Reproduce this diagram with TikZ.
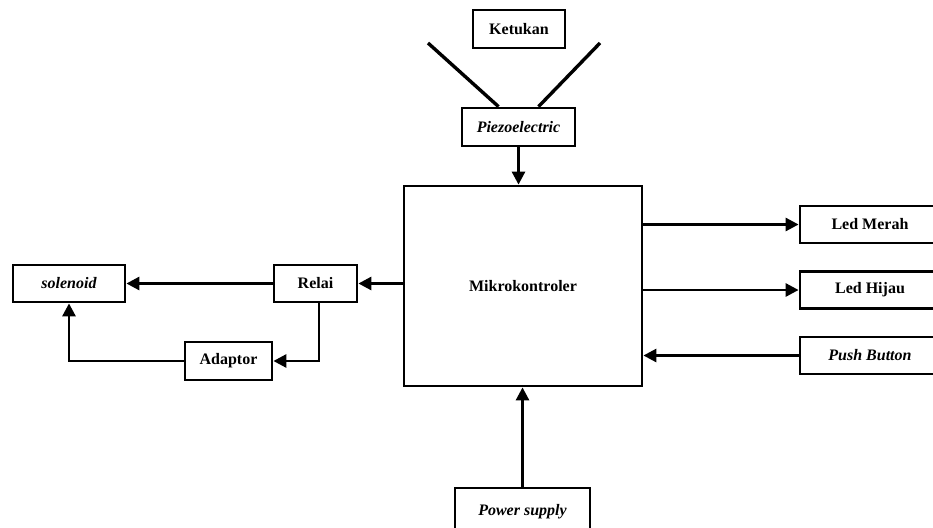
\documentclass[tikz,border=0pt]{standalone}
\usepackage{fontspec}
\setmainfont{Liberation Serif}
\usepackage{tikz}
\usetikzlibrary{arrows.meta,positioning,calc}

\begin{document}
\begin{tikzpicture}[
    x=1pt, y=-1pt,
    font=\fontsize{16}{18}\selectfont\bfseries,
    box/.style={rectangle, draw, line width=2.8pt, inner sep=0pt, align=center},
    arrow/.style={-{Triangle[length=13pt,width=13pt]}, line width=2.8pt}
]
\clip (0,0) rectangle (933,527);

\node[box, minimum width=92pt, minimum height=38pt] (ketukan) at (519,29) {Ketukan};
\node[box, minimum width=113pt, minimum height=38pt] (piezo) at (518.5,127) {\itshape Piezoelectric};
\node[box, minimum width=238pt, minimum height=200pt] (mcu) at (523,286) {\raisebox{-4pt}{Mikrokontroler}};
\node[box, minimum width=140pt, minimum height=37pt] (merah) at (870,224.5) {Led Merah};
\node[box, minimum width=140pt, minimum height=37pt] (hijau) at (870,290) {Led Hijau};
\node[box, minimum width=140pt, minimum height=37pt] (push) at (870,355.5) {\itshape Push Button};
\node[box, minimum width=83pt, minimum height=37pt] (relai) at (315.5,283.5) {Relai};
\node[box, minimum width=112pt, minimum height=37pt] (solenoid) at (69,283.5) {\itshape solenoid};
\node[box, minimum width=87pt, minimum height=38pt] (adaptor) at (228.5,361) {Adaptor};
\node[box, minimum width=135pt, minimum height=50pt] (power) at (522.5,513) {\raisebox{7pt}{\itshape Power supply}};

% getaran ketukan
\coordinate (kl) at (428,43);
\coordinate (kr) at (600,43);
\draw[line width=3.4pt] (kl) -- ([xshift=-20pt]piezo.north);
\draw[line width=3.4pt] (kr) -- ([xshift=20pt]piezo.north);

\draw[arrow] (piezo.south) -- (piezo.south |- mcu.north);
\draw[arrow] (mcu.east |- merah) -- (merah.west);
\draw[arrow] (mcu.east |- hijau) -- (hijau.west);
\draw[arrow] (push.west) -- (push -| mcu.east);
\draw[arrow] (power.north) -- (power.north |- mcu.south);
\draw[arrow] (relai -| mcu.west) -- (relai.east);
\draw[arrow] (relai.west) -- (solenoid.east);
\draw[arrow] ([xshift=3.5pt]relai.south) |- (adaptor.east);
\draw[arrow] (adaptor.west) -| (solenoid.south);

\end{tikzpicture}
\end{document}
